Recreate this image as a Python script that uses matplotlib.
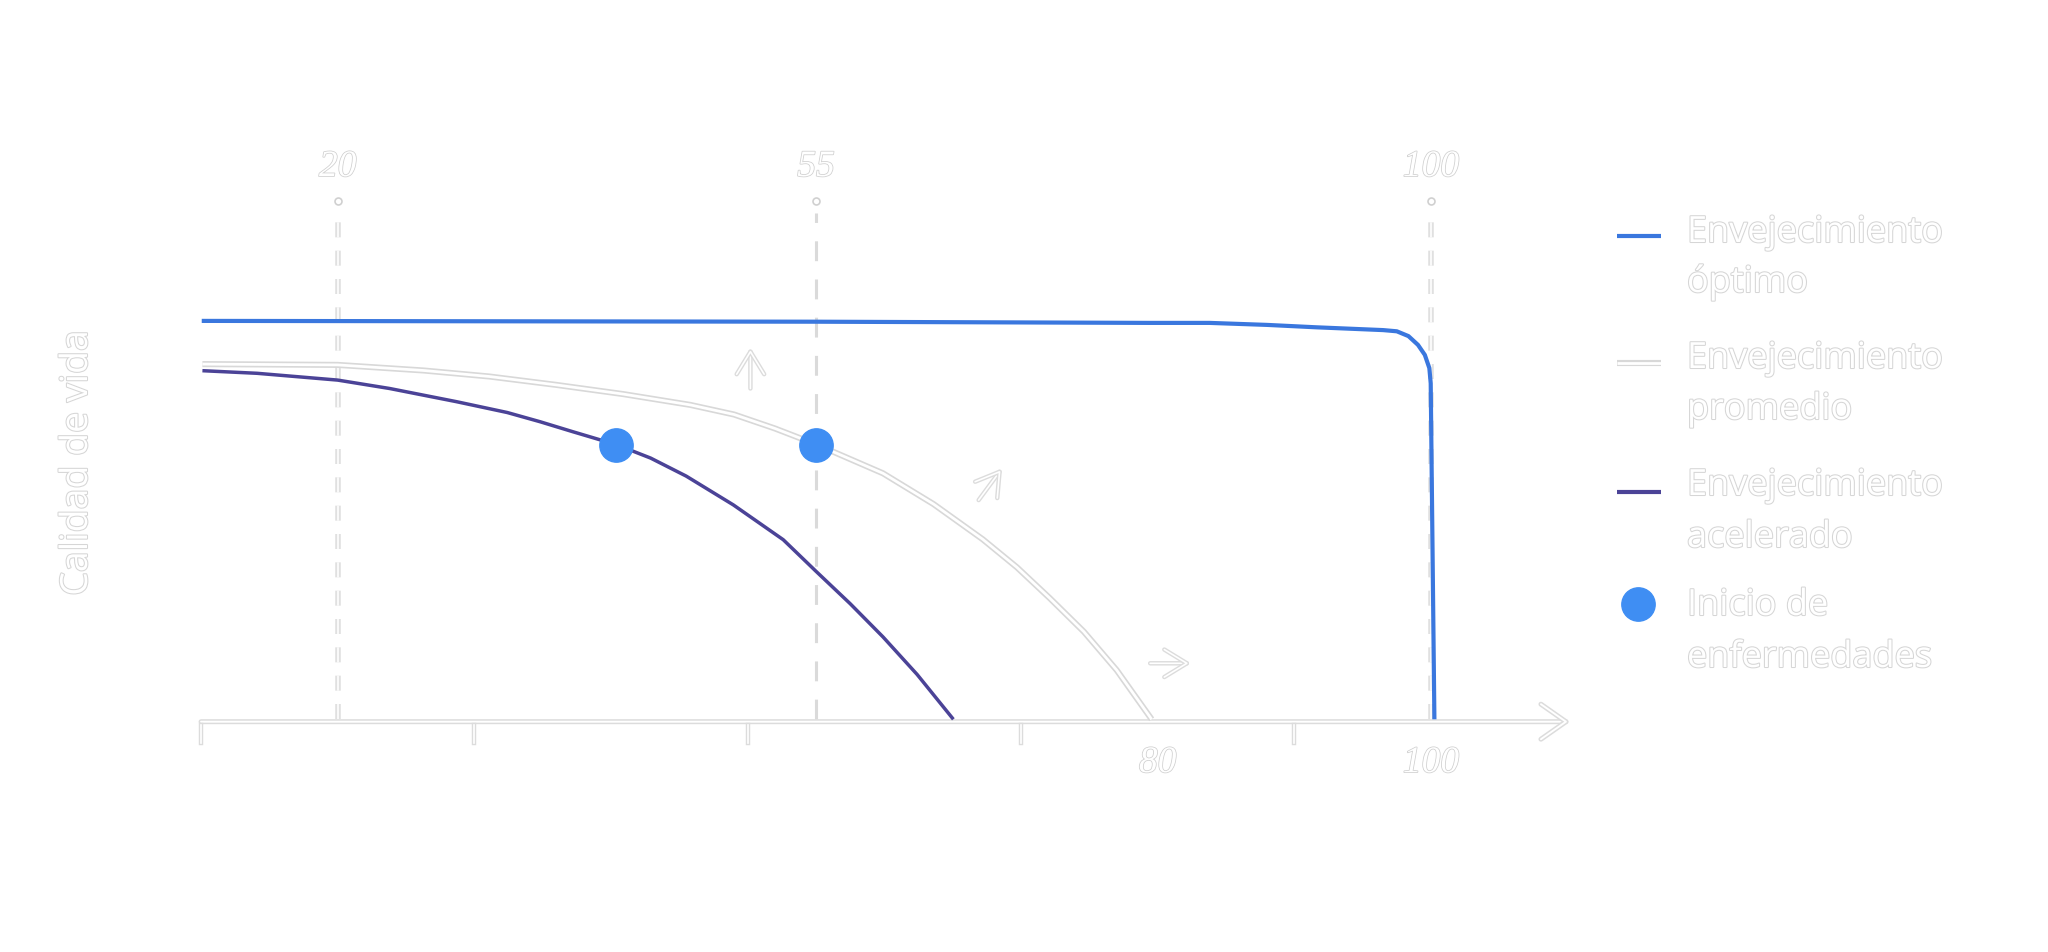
import matplotlib
matplotlib.use("Agg")
import matplotlib.pyplot as plt
import matplotlib.patheffects as pe

# ---------------- data ----------------
age_optimo = [10.05, 55.0, 79.4, 83.8, 88.0, 91.6, 96.5, 97.5, 98.35, 99.05, 99.55, 99.88, 99.98, 100.25]
qol_optimo = [99.6, 99.4, 99.1, 99.1, 98.6, 98.0, 97.3, 97.0, 95.8, 93.6, 91.1, 87.8, 84.0, 0.0]

age_promedio = [10.1, 20.0, 26.3, 31.1, 36.0, 40.9, 45.8, 49.0, 52.0, 55.0, 59.9, 63.6,
                67.2, 69.7, 72.1, 74.6, 77.0, 79.56]
qol_promedio = [88.8, 88.6, 87.2, 85.7, 83.6, 81.3, 78.6, 76.2, 72.7, 68.75, 61.5, 53.8,
                45.0, 38.0, 30.3, 21.9, 12.3, 0.0]

age_acelerado = [10.1, 14.1, 20.0, 23.8, 28.7, 32.4, 34.8, 37.2, 40.4, 42.9, 45.5,
                 48.95, 52.6, 55.0, 57.5, 59.9, 62.4, 65.05]
qol_acelerado = [87.15, 86.5, 84.8, 82.7, 79.4, 76.7, 74.4, 71.9, 68.65, 65.3, 60.8,
                 53.6, 44.9, 37.0, 28.9, 20.6, 11.2, 0.0]

age_enfermedad = [40.4, 55.0]
qol_enfermedad = [68.7, 68.7]

top_marks = [20, 55, 100]
top_labels = ["20", "55", "100"]
bottom_marks = [80, 100]
bottom_labels = ["80", "100"]
axis_ticks = [10, 30, 50, 70, 90]
axis_start, axis_end = 10, 110

legend_labels = [["Envejecimiento", "óptimo"],
                 ["Envejecimiento", "promedio"],
                 ["Envejecimiento", "acelerado"],
                 ["Inicio de", "enfermedades"]]
ylabel = "Calidad de vida"

# ---------------- style ----------------
C_BLUE = "#3a77de"
C_PURPLE = "#4b4397"
C_DOT = "#3f8ef3"
W, H = 2048, 952

fig = plt.figure(figsize=(W / 100, H / 100), dpi=100)
fig.patch.set_facecolor("white")
ax = fig.add_axes([0, 0, 1, 1])
ax.set_xlim(-4.712, 145.15)
ax.set_ylim(-58.175, 179.825)
ax.axis("off")

outline_txt = [pe.withStroke(linewidth=1.5, foreground="#d6d6d6")]
outline_num = [pe.withStroke(linewidth=1.1, foreground="#cfcfcf")]
outline_line = [pe.Stroke(linewidth=4.0, foreground="#e0e0e0"), pe.Normal()]

# dashed reference lines
for i, m in enumerate(top_marks):
    if m == 55:
        ax.plot([m, m], [0, 126.5], color="#dadada", lw=2.2,
                dashes=(6.5, 6), zorder=1, solid_capstyle="butt")
    else:
        ax.plot([m, m], [0, 126.5], color="white", lw=1.2,
                dashes=(9, 8), zorder=1, path_effects=outline_line)
    ax.plot([m], [129.6], marker="o", ms=5, mfc="white", mec="#d0d0d0",
            mew=1.2, zorder=2)
    ax.text(m, 138.1, top_labels[i], ha="center", va="center", fontsize=27,
            family="Liberation Serif", style="italic", color="white",
            path_effects=outline_num, zorder=3)

# x axis with arrow
ax.annotate("", xy=(axis_end, -0.6), xytext=(axis_start, -0.6),
            arrowprops=dict(arrowstyle="->,head_length=1.0,head_width=0.7",
                            color="white", lw=1.4, mutation_scale=18,
                            shrinkA=0, shrinkB=0,
                            path_effects=[pe.Stroke(linewidth=3.6, foreground="#dcdcdc"), pe.Normal()]),
            zorder=2)
for t in axis_ticks:
    ax.plot([t, t], [-1.4, -6.0], color="white", lw=1.2, zorder=2,
            path_effects=[pe.Stroke(linewidth=3.2, foreground="#dcdcdc"), pe.Normal()])
for i, m in enumerate(bottom_marks):
    ax.text(m, -10.9, bottom_labels[i], ha="center", va="center", fontsize=27,
            family="Liberation Serif", style="italic", color="white",
            path_effects=outline_num, zorder=3)

# curves
ax.plot(age_promedio, qol_promedio, color="white", lw=2.0, zorder=4,
        solid_capstyle="butt", solid_joinstyle="round",
        path_effects=[pe.Stroke(linewidth=4.4, foreground="#d8d8d8"), pe.Normal()])
ax.plot(age_acelerado, qol_acelerado, color=C_PURPLE, lw=2.5, zorder=5,
        solid_capstyle="butt", solid_joinstyle="round")
ax.plot(age_optimo, qol_optimo, color=C_BLUE, lw=3.0, zorder=5,
        solid_joinstyle="round", solid_capstyle="butt")
ax.plot(age_enfermedad, qol_enfermedad, ls="none", marker="o", ms=24,
        color=C_DOT, mec=C_DOT, zorder=6)

# small direction arrows
arrow_pe = [pe.Stroke(linewidth=3.2, foreground="#dcdcdc"), pe.Normal()]
for tail, tip in [((50.2, 82.7), (50.2, 92.3)),
                  ((66.9, 54.8), (68.5, 62.2)),
                  ((79.45, 14.0), (82.25, 14.0))]:
    ax.annotate("", xy=tip, xytext=tail,
                arrowprops=dict(arrowstyle="->,head_length=0.9,head_width=0.55",
                                color="white", lw=1.2, mutation_scale=18,
                                shrinkA=0, shrinkB=0, path_effects=arrow_pe),
                zorder=3)

# overlay in pixel coordinates for legend and y label
lax = fig.add_axes([0, 0, 1, 1])
lax.set_xlim(0, W)
lax.set_ylim(H, 0)
lax.axis("off")
lax.patch.set_alpha(0)

txt_kw = dict(family="Open Sans", color="white", path_effects=outline_txt)
lax.text(77, 463, ylabel, rotation=90, ha="center", va="center", fontsize=27, **txt_kw)

handle_y = [236, 363, 492, 604]
base1 = [242, 368, 495, 615]
base2 = [292, 419, 547, 667]
lax.plot([1617, 1661], [handle_y[0]] * 2, color=C_BLUE, lw=3.0, solid_capstyle="butt")
lax.plot([1617, 1661], [handle_y[1]] * 2, color="white", lw=2.0, solid_capstyle="butt",
         path_effects=[pe.Stroke(linewidth=4.4, foreground="#d8d8d8"), pe.Normal()])
lax.plot([1617, 1661], [handle_y[2]] * 2, color=C_PURPLE, lw=3.0, solid_capstyle="butt")
lax.plot([1638], [handle_y[3]], marker="o", ms=24, color=C_DOT, mec=C_DOT, ls="none")
for i, (l1, l2) in enumerate(legend_labels):
    lax.text(1687, base1[i], l1, ha="left", va="baseline", fontsize=26, **txt_kw)
    lax.text(1687, base2[i], l2, ha="left", va="baseline", fontsize=26, **txt_kw)

fig.savefig("out.png", dpi=100, facecolor="white")
